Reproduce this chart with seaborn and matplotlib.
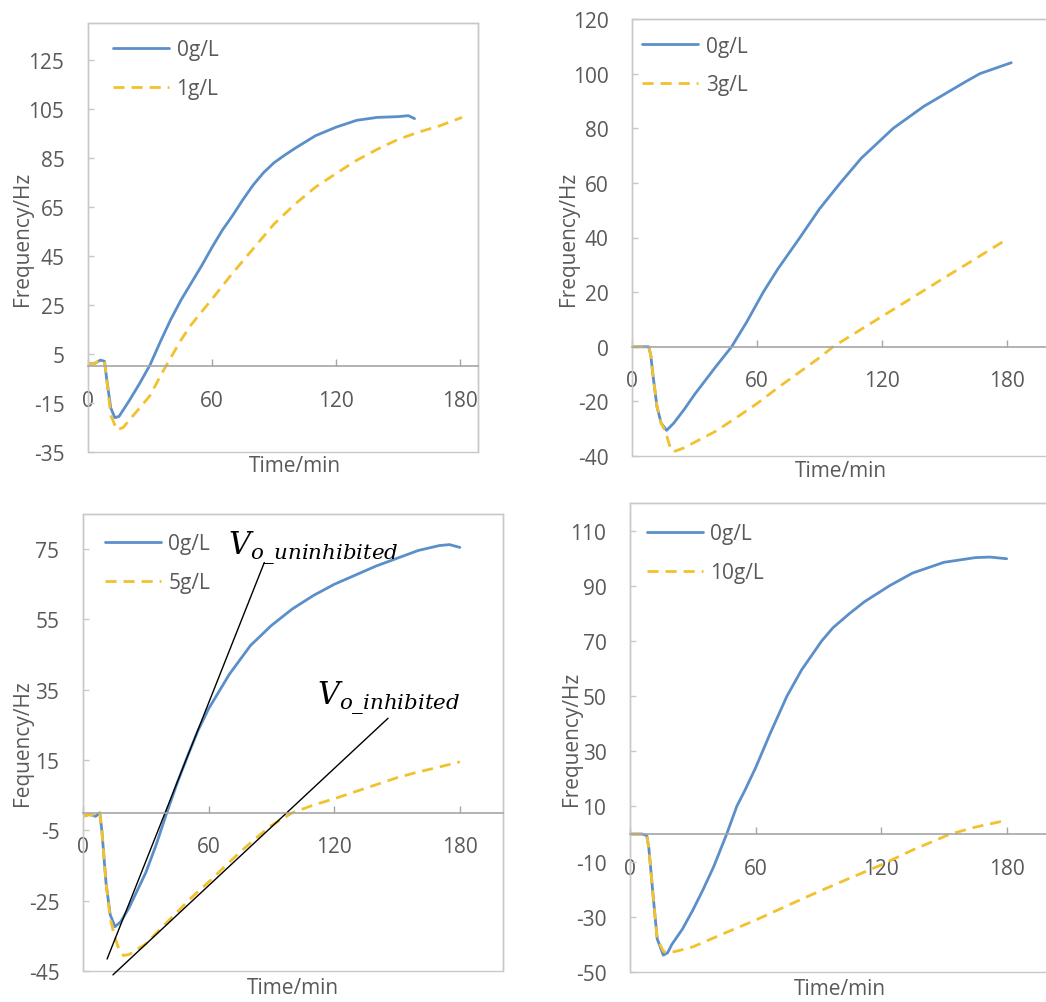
import numpy as np
import pandas as pd
import seaborn as sns
import matplotlib
matplotlib.use("Agg")
import matplotlib.pyplot as plt
from matplotlib.patches import Rectangle

sns.set_theme(style="white")
plt.rcParams["font.family"] = ["Open Sans", "DejaVu Sans"]
plt.rcParams["axes.unicode_minus"] = False

# ---------------- data ----------------
# Panel 1: 0 g/L vs 1 g/L
p1_t0 = [0, 3, 6, 8, 9, 11, 13, 15, 20, 25, 30, 35, 40, 45, 50, 55, 60, 65, 70, 75, 80,
         85, 90, 95, 100, 110, 120, 130, 140, 150, 155, 158]
p1_v0 = [1, 1, 2.5, 2, -5, -17, -21, -20.5, -14, -7, 0.5, 10, 19, 27, 34, 41, 48.5, 55.5,
         61.5, 68, 74, 79, 83, 86, 88.8, 94, 97.5, 100.3, 101.5, 101.8, 102.2, 101]
p1_t1 = [0, 3, 6, 8, 9, 11, 14, 17, 20, 25, 30, 35, 38, 45, 50, 60, 70, 80, 90, 100, 110,
         120, 130, 140, 150, 160, 170, 181]
p1_v1 = [1, 1, 2.5, 2, -5, -20, -26, -25, -22, -17, -12, -4, 0.5, 10.7, 17, 27.4, 38, 48,
         58, 66, 73, 78.6, 84, 88.5, 92.5, 95.5, 98, 101.5]

# Panel 2: 0 g/L vs 3 g/L
p2_t0 = [0, 5, 8, 9, 10, 12, 14, 16.6, 20, 25, 30, 35, 40, 47.8, 55, 63, 70, 80.6, 90, 100,
         110, 125.4, 140, 150, 160, 167, 182]
p2_v0 = [0, 0, 0, -3, -10, -22, -28, -30.6, -28, -23, -17.5, -12.5, -7.5, 0, 9, 20, 28.5,
         40, 50.5, 60, 69, 80, 88, 92.5, 97, 100, 104]
p2_t1 = [0, 5, 8, 9, 10, 12, 14, 16, 18, 19.7, 25, 30, 40, 50, 60, 70, 80, 90, 96.5, 110,
         120, 135, 150, 165, 180]
p2_v1 = [0, 0, 0, -3, -10, -22, -28, -31, -36, -38.5, -37, -35, -31, -26, -20.8, -15,
         -9.5, -4, 0, 6.4, 11.1, 18.2, 25.3, 32.3, 39.4]

# Panel 3: 0 g/L vs 5 g/L
p3_t0 = [0, 3, 6, 8, 9, 11, 13, 15.3, 18, 22, 26, 30, 35, 40, 45, 50, 55, 60, 70, 80, 90,
         100, 110, 120, 140, 160, 170, 175, 180]
p3_v0 = [-1, -0.5, -1, 0, -5, -20, -29, -32.4, -31, -27, -22, -17, -9, 0, 8.5, 16.2, 23.5,
         29.6, 39.5, 47.6, 53.3, 58, 61.8, 65, 70.2, 74.6, 76, 76.3, 75.5]
p3_t1 = [0, 3, 6, 8, 9, 11, 13, 15, 17, 19.3, 22, 26, 30, 37, 45, 52, 60, 67, 75, 82, 90,
         100, 110, 120, 130, 140, 150, 160, 170, 180]
p3_v1 = [-1, -0.5, -1, 0, -5, -20, -30, -35, -38.5, -40.6, -40.3, -38.8, -37.3, -33, -28.2,
         -24, -19.7, -15.7, -11.2, -7.5, -3.6, 0, 2.2, 4, 6, 8, 10, 11.6, 13, 14.5]

# Panel 4: 0 g/L vs 10 g/L
p4_t0 = [0, 3, 6, 8, 9, 11, 13, 15.9, 18, 20, 25, 30, 35, 40, 46.2, 51, 55, 60, 67, 75,
         82, 91.6, 97, 105, 112, 124, 135, 150, 165, 172, 180]
p4_v0 = [0, 0, 0, -0.5, -5, -22, -38, -43.9, -43, -40, -34.5, -27.6, -20, -11.8, 0, 10,
         16, 24, 36.5, 50, 59.5, 70, 74.8, 80, 84.2, 90, 94.6, 98.5, 100.2, 100.4, 99.8]
p4_t1 = [0, 3, 6, 8, 9, 11, 13, 15.9, 18, 22, 30, 45, 60, 75, 90, 105, 120, 135, 153,
         165, 180]
p4_v1 = [0, 0, 0, -0.5, -5, -22, -38, -42.5, -43, -42.5, -40.9, -36, -31.2, -26, -20.9,
         -16, -11.2, -5.8, 0, 2.5, 5]

# tangent lines (panel 3) and their labels
tan_unin_x = [11.5, 86.6]
tan_unin_y = [-41.6, 71.2]
tan_inh_x = [14.3, 145.7]
tan_inh_y = [-46.1, 26.9]

conc_labels = [("0g/L", "1g/L"), ("0g/L", "3g/L"), ("0g/L", "5g/L"), ("0g/L", "10g/L")]
series = [(p1_t0, p1_v0, p1_t1, p1_v1), (p2_t0, p2_v0, p2_t1, p2_v1),
          (p3_t0, p3_v0, p3_t1, p3_v1), (p4_t0, p4_v0, p4_t1, p4_v1)]
ylabels = ["Frequency/Hz", "Frequency/Hz", "Fequency/Hz", "Frequency/Hz"]
xticks = [0, 60, 120, 180]
yticks_list = [list(range(-35, 126, 20)), list(range(-40, 121, 20)),
               list(range(-45, 76, 20)), list(range(-50, 111, 20))]

# ---------------- layout ----------------
W, H = 1046, 1003
fig = plt.figure(figsize=(W / 100, H / 100), dpi=100)

boxes = [(88, 24, 478, 453), (632, 20, 1050, 457), (83, 515, 503, 972), (630, 504, 1050, 973)]
ylims = [(-35, 140), (-40, 120), (-45, 85), (-50, 120)]
xlims = [(0, 188.7), (0, 200.6), (0, 200.6), (0, 200.7)]
ylab_x = [-0.141, -0.126, -0.119, -0.114]
xlab_pos = [(0.53, -0.008), (0.50, -0.010), (0.50, -0.014), (0.50, -0.013)]
leg_anchor = [(0.064, 0.962), (0.024, 0.962), (0.052, 0.958), (0.040, 0.957)]

BLUE = "#5B8FC9"
YELLOW = "#F2C12E"
TXT = "#595959"
FRAME = "#C8C8C8"
ZERO = "#A6A6A6"
FS = 15

for i in range(4):
    l, t, r, b = boxes[i]
    ax = fig.add_axes([l / W, 1 - b / H, (r - l) / W, (b - t) / H])
    t0, v0, t1, v1 = series[i]
    lab0, lab1 = conc_labels[i]
    df = pd.DataFrame({
        "t": list(t0) + list(t1),
        "v": list(v0) + list(v1),
        "conc": [lab0] * len(t0) + [lab1] * len(t1),
    })
    sns.lineplot(data=df, x="t", y="v", hue="conc", style="conc",
                 palette=[BLUE, YELLOW], dashes=["", (4, 2.5)],
                 linewidth=2.0, sort=False, estimator=None, ax=ax)

    ax.set_xlim(*xlims[i])
    ax.set_ylim(*ylims[i])
    ax.set_xticks(xticks)
    ax.set_yticks(yticks_list[i])

    # axis lines: frame box + x axis crossing at 0
    for s in ["top", "right", "left"]:
        ax.spines[s].set_color(FRAME)
        ax.spines[s].set_linewidth(1.0)
    ax.spines["bottom"].set_position(("data", 0))
    ax.spines["bottom"].set_color(ZERO)
    ax.spines["bottom"].set_linewidth(1.2)
    ax.add_patch(Rectangle((0, 0), 1, 1, transform=ax.transAxes, fill=False,
                           edgecolor=FRAME, linewidth=1.0, clip_on=False, zorder=0))

    ax.tick_params(axis="x", bottom=True, direction="in", length=5, width=1,
                   color=ZERO, pad=17, labelsize=FS, labelcolor=TXT)
    ax.tick_params(axis="y", left=True, direction="in", length=4, width=1,
                   color=FRAME, pad=17, labelsize=FS, labelcolor=TXT)

    ax.set_xlabel("Time/min", fontsize=FS, color=TXT)
    ax.set_ylabel(ylabels[i], fontsize=FS, color=TXT)
    ax.xaxis.set_label_coords(*xlab_pos[i])
    ax.xaxis.label.set_va("top")
    ax.yaxis.set_label_coords(ylab_x[i], 0.5)

    h, lb = ax.get_legend_handles_labels()
    ax.legend(h, lb, loc="upper left", bbox_to_anchor=leg_anchor[i], frameon=False,
              fontsize=FS, handlelength=2.7, handletextpad=0.35, labelspacing=0.85,
              borderpad=0, borderaxespad=0, labelcolor=TXT)

    if i == 2:
        ax.plot(tan_unin_x, tan_unin_y, color="black", linewidth=1.0, clip_on=False)
        ax.plot(tan_inh_x, tan_inh_y, color="black", linewidth=1.0, clip_on=False)
        ax.text(69.1, 75.6, r"$V_{o\_uninhibited}$", fontsize=22, ha="left",
                va="center", color="black", math_fontfamily="dejavuserif")
        ax.text(111.6, 32.9, r"$V_{o\_inhibited}$", fontsize=22, ha="left",
                va="center", color="black", math_fontfamily="dejavuserif")

fig.savefig("out.png", dpi=100)
